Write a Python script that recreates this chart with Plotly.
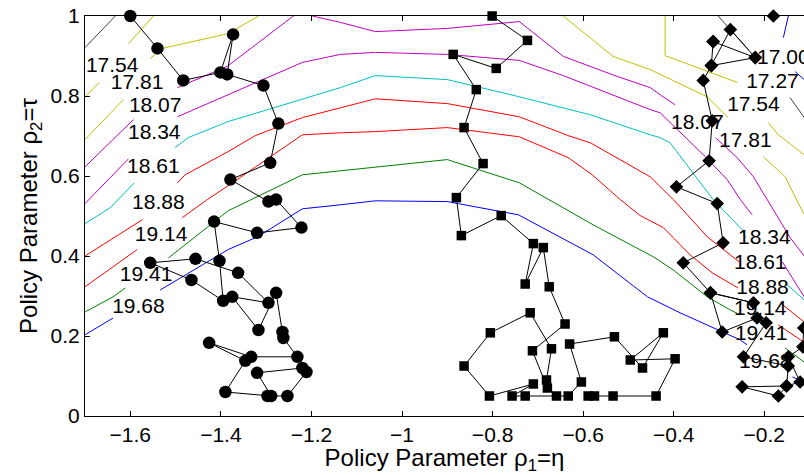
import plotly.graph_objects as go

FONT = "Liberation Sans, Arial, Helvetica, sans-serif"

# ---------------- contour lines (data units, None = label gap) ----------------
lev_1700_x = [-0.147, -0.158, None, -0.132, -0.112, -0.094]
lev_1700_y = [1.0, 0.946, None, 0.861, 0.841, 0.823]

lev_1727_x = [-1.70, -1.633, None, -0.302, -0.235, None, -0.143, -0.112, -0.094]
lev_1727_y = [0.921, 1.0, None, 1.0, 0.916, None, 0.796, 0.746, 0.721]

lev_1754_x = [-1.70, -1.668, None, -1.604, -1.549, None, -0.419, -0.419, -0.260, None,
              -0.191, -0.169, -0.112, -0.094]
lev_1754_y = [0.798, 0.834, None, 0.931, 1.0, None, 1.0, 0.901, 0.834, None,
              0.733, 0.703, 0.653, 0.638]

lev_1781_x = [-1.70, -1.615, None, -1.556, -1.529, -1.384, -1.317, None,
              -0.644, -0.534, -0.452, -0.430, -0.370, -0.326, -0.280, None,
              -0.202, -0.154, -0.121, -0.112, -0.094]
lev_1781_y = [0.691, 0.791, None, 0.894, 0.919, 0.956, 1.0, None,
              1.0, 0.899, 0.866, 0.854, 0.823, 0.798, 0.746, None,
              0.648, 0.598, 0.523, 0.503, 0.466]

lev_1807_x = [-1.70, -1.593, None, -1.496, -1.386, -1.240, -1.219, -1.198, -1.136, -1.059,
              -0.900, -0.741, -0.644, -0.525, -0.452, -0.430, -0.397, None,
              -0.308, -0.260, -0.224, -0.180, -0.143, -0.112, -0.094]
lev_1807_y = [0.623, 0.741, None, 0.821, 0.874, 1.0, 1.01, 1.0, 0.984, 0.961,
              0.969, 0.986, 0.899, 0.849, 0.821, 0.803, 0.778, None,
              0.696, 0.646, 0.598, 0.516, 0.446, 0.400, 0.370]

lev_1834_x = [-1.70, -1.604, None, -1.496, -1.386, -1.220, -1.136, -1.059, -0.900, -0.741,
              -0.644, -0.525, -0.452, -0.430, -0.330, -0.282, -0.253, -0.227, None,
              -0.160, -0.112, -0.094]
lev_1834_y = [0.531, 0.643, None, 0.748, 0.803, 0.884, 0.904, 0.909, 0.904, 0.889,
              0.851, 0.798, 0.766, 0.758, 0.648, 0.591, 0.541, 0.503, None,
              0.385, 0.298, 0.265]

lev_1861_x = [-1.70, -1.644, -1.591, None, -1.501, -1.472, -1.384, -1.220, -1.136, -1.059,
              -0.900, -0.741, -0.584, -0.452, -0.430, -0.408, -0.364, -0.313, -0.249, -0.242,
              None, -0.154, -0.112, -0.094]
lev_1861_y = [0.481, 0.521, 0.583, None, 0.671, 0.696, 0.736, 0.791, 0.821, 0.851,
              0.841, 0.798, 0.753, 0.703, 0.696, 0.683, 0.616, 0.541, 0.466, 0.446,
              None, 0.333, 0.290, 0.272]

lev_1888_x = [-1.70, -1.573, None, -1.496, -1.479, -1.384, -1.324, -1.220, -1.136, -1.059,
              -0.900, -0.741, -0.633, -0.584, -0.452, -0.401, -0.370, -0.326, -0.253, None,
              -0.165, -0.138, -0.112, -0.094]
lev_1888_y = [0.400, 0.491, None, 0.583, 0.603, 0.661, 0.701, 0.746, 0.771, 0.793,
              0.781, 0.748, 0.701, 0.683, 0.598, 0.541, 0.503, 0.448, 0.383, None,
              0.283, 0.258, 0.235, 0.220]

lev_1914_x = [-1.70, -1.585, None, -1.485, -1.430, -1.381, -1.220, -1.136, -1.059, -0.900,
              -0.741, -0.633, -0.580, -0.518, -0.474, -0.423, -0.364, -0.315, -0.258, None,
              -0.169, -0.127, -0.112, -0.094]
lev_1914_y = [0.323, 0.416, None, 0.496, 0.541, 0.578, 0.703, 0.708, 0.711, 0.721,
              0.698, 0.646, 0.603, 0.541, 0.501, 0.471, 0.403, 0.358, 0.320, None,
              0.228, 0.195, 0.183, 0.170]

lev_1941_x = [-1.70, -1.638, -1.611, None, -1.516, -1.456, -1.384, -1.220, -1.136, -1.059,
              -0.900, -0.741, -0.677, -0.578, -0.445, -0.401, -0.326, -0.275, -0.253, None,
              -0.154, -0.112, -0.094]
lev_1941_y = [0.260, 0.298, 0.320, None, 0.395, 0.448, 0.513, 0.603, 0.613, 0.623,
              0.641, 0.583, 0.541, 0.478, 0.398, 0.365, 0.298, 0.265, 0.253, None,
              0.170, 0.135, 0.120]

lev_1968_x = [-1.70, -1.638, None, -1.534, -1.384, -1.319, -1.220, -1.136, -1.059, -0.900,
              -0.743, -0.578, -0.458, -0.386, -0.304, -0.253, -0.238, None,
              -0.138, -0.112, -0.094]
lev_1968_y = [0.203, 0.245, None, 0.315, 0.416, 0.448, 0.518, 0.528, 0.538, 0.536,
              0.503, 0.403, 0.298, 0.258, 0.215, 0.190, 0.178, None,
              0.098, 0.083, 0.074]

contour_lines = [
    (lev_1700_x, lev_1700_y, "#0000ff"),
    (lev_1727_x, lev_1727_y, "#404040"),
    (lev_1754_x, lev_1754_y, "#bfbf00"),
    (lev_1781_x, lev_1781_y, "#bfbf00"),
    (lev_1807_x, lev_1807_y, "#bf00bf"),
    (lev_1834_x, lev_1834_y, "#bf00bf"),
    (lev_1861_x, lev_1861_y, "#00bfbf"),
    (lev_1888_x, lev_1888_y, "#ff0000"),
    (lev_1914_x, lev_1914_y, "#ff0000"),
    (lev_1941_x, lev_1941_y, "#008000"),
    (lev_1968_x, lev_1968_y, "#0000ff"),
]

# ---------------- contour labels ----------------
label_text = ["17.54", "17.81", "18.07", "18.34", "18.61", "18.88", "19.14", "19.41", "19.68",
              "17.00", "17.27", "17.54", "17.81", "18.07", "18.34", "18.61", "18.88", "19.14",
              "19.41", "19.68"]
label_x = [-1.640, -1.585, -1.545, -1.547, -1.549, -1.538, -1.532, -1.565, -1.582,
           -0.158, -0.182, -0.224, -0.242, -0.348, -0.200, -0.209, -0.204, -0.209, -0.207, -0.198]
label_y = [0.874, 0.831, 0.774, 0.706, 0.621, 0.531, 0.451, 0.351, 0.271,
           0.892, 0.834, 0.776, 0.686, 0.731, 0.444, 0.381, 0.318, 0.266, 0.203, 0.133]

# ---------------- search trajectories ----------------
circ_x = [-1.600, -1.540, -1.483, -1.401, -1.373, -1.386, -1.306, -1.273, -1.291, -1.379,
          -1.295, -1.278, -1.222, -1.320, -1.415, -1.403, -1.395, -1.465, -1.556, -1.456,
          -1.362, -1.295, -1.375, -1.317, -1.278, -1.264, -1.262, -1.231, -1.333, -1.426,
          -1.346, -1.390, -1.289, -1.320, -1.220, -1.211, -1.253, -1.297]
circ_y = [1.0, 0.919, 0.839, 0.859, 0.954, 0.854, 0.826, 0.731, 0.633, 0.591,
          0.536, 0.541, 0.471, 0.458, 0.486, 0.388, 0.288, 0.340, 0.383, 0.393,
          0.358, 0.283, 0.298, 0.215, 0.308, 0.210, 0.195, 0.148, 0.148, 0.183,
          0.138, 0.060, 0.050, 0.108, 0.120, 0.110, 0.050, 0.050]

sq_x = [-0.801, -0.723, -0.792, -0.887, -0.836, -0.863, -0.821, -0.880, -0.869, -0.781,
        -0.710, -0.728, -0.688, -0.675, -0.640, -0.712, -0.679, -0.681, -0.670, -0.717,
        -0.805, -0.863, -0.807, -0.710, -0.757, -0.728, -0.659, -0.633, -0.604, -0.630,
        -0.531, -0.469, -0.423, -0.496, -0.397, -0.439, -0.534, -0.575, -0.589]
sq_y = [1.0, 0.939, 0.869, 0.904, 0.816, 0.721, 0.631, 0.546, 0.451, 0.501,
        0.431, 0.330, 0.421, 0.323, 0.230, 0.163, 0.070, 0.090, 0.168, 0.258,
        0.208, 0.125, 0.050, 0.080, 0.050, 0.050, 0.050, 0.050, 0.085, 0.180,
        0.198, 0.120, 0.208, 0.140, 0.143, 0.050, 0.050, 0.050, 0.050]

dia_x = [-0.180, None, -0.313, -0.220, -0.275, -0.317, -0.313, None,
         -0.220, -0.317, -0.335, -0.315, -0.322, -0.394, -0.304, -0.291, -0.379, -0.319,
         -0.224, -0.319, -0.293, -0.216, -0.196, -0.246, -0.147, -0.151, -0.249, -0.169,
         -0.151, -0.121, -0.147, -0.115, -0.113]
dia_y = [1.0, None, 0.936, 0.896, 0.966, 0.876, 0.936, None,
         0.896, 0.876, 0.839, 0.738, 0.638, 0.573, 0.531, 0.433, 0.383, 0.308,
         0.283, 0.308, 0.210, 0.245, 0.233, 0.148, 0.125, 0.075, 0.073, 0.050,
         0.075, 0.085, 0.148, 0.173, 0.220]

fig = go.Figure()

for xs, ys, col in contour_lines:
    fig.add_trace(go.Scatter(x=xs, y=ys, mode="lines",
                             line=dict(color=col, width=1), hoverinfo="skip",
                             showlegend=False))

fig.add_trace(go.Scatter(x=label_x, y=label_y, mode="text", text=label_text,
                         textposition="middle center",
                         textfont=dict(family=FONT, size=21, color="black"),
                         showlegend=False, hoverinfo="skip"))

for xs, ys, sym, sz in [(circ_x, circ_y, "circle", 12.5),
                        (sq_x, sq_y, "square", 9.5),
                        (dia_x, dia_y, "diamond", 10.5)]:
    fig.add_trace(go.Scatter(x=xs, y=ys, mode="lines+markers",
                             line=dict(color="black", width=1),
                             marker=dict(symbol=sym, size=sz, color="black",
                                         line=dict(width=0)),
                             cliponaxis=False, showlegend=False))

axis_common = dict(showline=True, linecolor="black", linewidth=1,
                   ticks="inside", ticklen=5, tickwidth=1, tickcolor="black",
                   showgrid=False, zeroline=False,
                   tickfont=dict(family=FONT, size=21, color="black"))

fig.update_xaxes(range=[-1.7, -0.1124], dtick=0.2, tick0=0, mirror="ticks",
                 title=dict(text="Policy Parameter ρ<sub>1</sub>=η",
                            font=dict(family=FONT, size=24, color="black"), standoff=2),
                 **axis_common)
fig.update_yaxes(range=[0, 1], dtick=0.2, tick0=0, mirror=False,
                 title=dict(text="Policy Parameter ρ<sub>2</sub>=τ",
                            font=dict(family=FONT, size=24, color="black"), standoff=6),
                 **axis_common)

fig.update_layout(width=804, height=475,
                  margin=dict(l=85, r=0, t=16, b=59),
                  paper_bgcolor="white", plot_bgcolor="white",
                  showlegend=False)

fig.write_html("out.html")
